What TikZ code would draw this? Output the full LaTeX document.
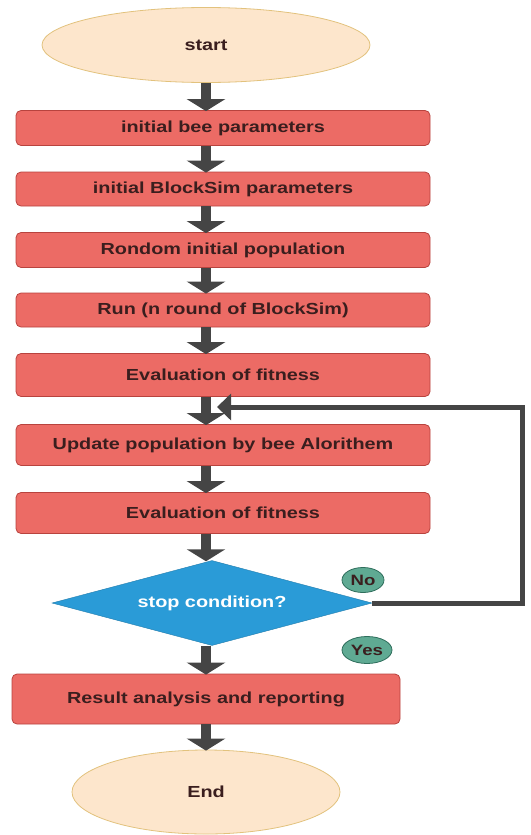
\documentclass[tikz,border=0pt]{standalone}
\usepackage{fontspec}
\setmainfont{Liberation Sans}[FakeStretch=1.24]
\usetikzlibrary{shapes.geometric,arrows.meta}
\definecolor{peach}{HTML}{FDE6CC}
\definecolor{peachline}{HTML}{E2C27D}
\definecolor{boxred}{HTML}{EC6B65}
\definecolor{boxline}{HTML}{B8433E}
\definecolor{condblue}{HTML}{2A9BD7}
\definecolor{tagteal}{HTML}{5FAA93}
\definecolor{tagline}{HTML}{2F6E5C}
\definecolor{arrowgray}{HTML}{454545}
\definecolor{inkdark}{HTML}{3A1E1E}
\begin{document}
\begin{tikzpicture}[x=1pt, y=-1pt,
  every node/.style={font=\fontsize{16}{18}\selectfont\bfseries, text=inkdark},
  terminal/.style={ellipse, draw=peachline, fill=peach, line width=0.8pt, inner sep=0pt},
  stepbox/.style={rectangle, rounded corners=5pt, draw=boxline, fill=boxred, line width=0.8pt, minimum width=414pt, inner sep=0pt},
  decision/.style={diamond, aspect=3.76, fill=condblue, draw=condblue!80!black, line width=0.4pt, minimum width=320pt, minimum height=85pt, inner sep=0pt, text=white},
  tag/.style={ellipse, fill=tagteal, draw=tagline, line width=0.8pt, minimum height=25pt, inner sep=0pt, font=\fontsize{15}{17}\selectfont\bfseries},
  bigarrow/.style={draw=arrowgray, line width=10pt, -{Triangle[width=38pt,length=12pt]}, shorten >=-1pt},
  backarrow/.style={draw=arrowgray, line width=5pt, -{Triangle[width=26pt,length=14pt]}}]
\useasboundingbox (0,0) rectangle (530,835);
% terminals
\node[terminal, minimum width=328pt, minimum height=75pt] (start) at (206,45) {start};
\node[terminal, minimum width=268pt, minimum height=84pt] (end) at (206,792) {End};
% main steps
\node[stepbox, minimum height=35pt] (b1) at (223,128) {initial bee parameters};
\node[stepbox, minimum height=34pt] (b2) at (223,189) {initial BlockSim parameters};
\node[stepbox, minimum height=35pt] (b3) at (223,250) {Rondom initial population};
\node[stepbox, minimum height=34pt] (b4) at (223,310) {Run (n round of BlockSim)};
\node[stepbox, minimum height=43pt] (b5) at (223,375) {Evaluation of fitness};
\node[stepbox, minimum height=41pt] (b6) at (223,445) {Update population by bee Alorithem};
\node[stepbox, minimum height=41pt] (b7) at (223,513) {Evaluation of fitness};
\node[decision] (cond) at (212,603) {stop condition?};
\node[stepbox, minimum width=388pt, minimum height=50pt] (b8) at (206,699) {Result analysis and reporting};
% yes / no tags
\node[tag, minimum width=42pt] (no) at (363,580) {No};
\node[tag, minimum width=50pt, minimum height=27pt] (yes) at (367,650) {Yes};
% flow arrows
\foreach \a/\b in {start/b1,b1/b2,b2/b3,b3/b4,b4/b5,b5/b6,b6/b7,b7/cond,cond/b8,b8/end}
  \draw[bigarrow] (\a.south -| start) -- (\b.north -| start);
% loop back
\coordinate (loopin) at (217,407);
\coordinate (loopout) at (522,407);
\draw[backarrow] (cond.east) -| (loopout) -- (loopin);
\end{tikzpicture}
\end{document}
